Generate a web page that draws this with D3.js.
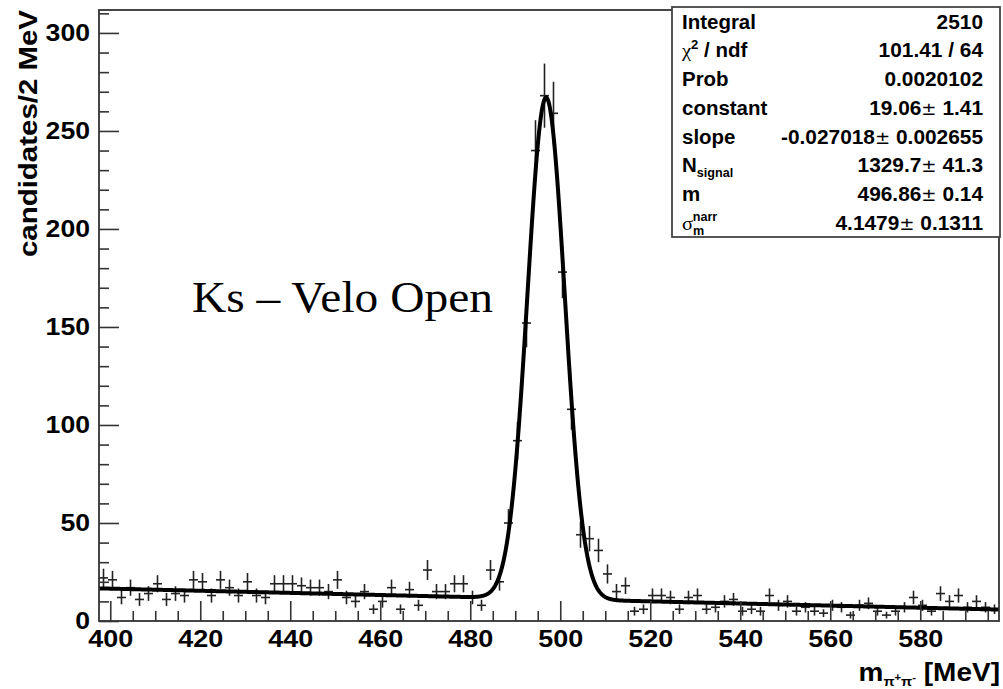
<!DOCTYPE html>
<html>
<head>
<meta charset="utf-8">
<script src="https://cdn.jsdelivr.net/npm/d3@7"></script>
<style>
  body { margin: 0; background: #fff; }
  svg { display: block; }
</style>
</head>
<body>
<svg id="chart" width="1003" height="689"></svg>
<script>
// Histogram of pi+ pi- invariant mass, 2 MeV bins starting at 397.5 MeV
const binLow = 397.5;
const binWidth = 2;
const counts = [
  22, 21, 12, 17, 11, 14, 19, 11, 14, 13,
  21, 20, 13, 21, 17, 13, 20, 13, 12, 19,
  19, 19, 18, 17, 17, 15, 21, 12, 10, 15,
   6, 10, 17,  6, 16,  8, 26, 15, 15, 19,
  19, 12,  8, 26, 20, 50, 92, 152, 240, 268,
  259, 178, 108, 44, 42, 36, 24, 15, 18, 5,
   6, 13, 13, 12,  6, 12, 13,  6,  7, 10,
  11,  5,  6,  5, 13,  8, 10,  5,  7,  5,
   4,  8,  7,  3,  8,  9,  5,  3,  5,  7,
  12,  8,  5, 14, 10, 13,  7, 10,  7,  6
];

const xTickValues = [400, 420, 440, 460, 480, 500, 520, 540, 560, 580];
const yTickValues = [0, 50, 100, 150, 200, 250, 300];
const yMax = 311.7;

// Fit: linear background (per MeV) + gaussian signal
const fitConstant = 19.06;
const fitSlope = -0.027018;
const fitNSignal = 1329.7;
const fitMass = 496.86;
const fitSigma = 4.1479;

// Stats box rows
const statLabels = ["Integral", "chi2", "Prob", "constant", "slope", "Nsignal", "m", "sigma"];
const statValues = ["2510", "101.41 / 64", "0.0020102", "19.06 \u00b1 1.41",
  "-0.027018 \u00b1 0.002655", "1329.7 \u00b1 41.3", "496.86 \u00b1 0.14", "4.1479 \u00b1 0.1311"];

const svg = d3.select("#chart");
const frame = { left: 99, right: 999, top: 10, bottom: 621 };
const FONT = "'Liberation Sans', Arial, Helvetica, sans-serif";

const x = d3.scaleLinear()
  .domain([binLow, binLow + counts.length * binWidth])
  .range([frame.left, frame.right]);
const y = d3.scaleLinear().domain([0, yMax]).range([frame.bottom, frame.top]);

function fitValue(m) {
  const bg = binWidth * (fitConstant + fitSlope * m);
  const sig = binWidth * fitNSignal / (Math.sqrt(2 * Math.PI) * fitSigma) *
    Math.exp(-((m - fitMass) ** 2) / (2 * fitSigma * fitSigma));
  return bg + sig;
}

// ---- data points with error bars ----
const bins = counts.map((c, i) => ({
  lo: binLow + i * binWidth,
  hi: binLow + (i + 1) * binWidth,
  mid: binLow + (i + 0.5) * binWidth,
  v: c,
  e: Math.sqrt(c)
}));

const gPts = svg.append("g").attr("stroke", "#222").attr("stroke-width", 1.6).attr("fill", "none");
gPts.selectAll("line.h").data(bins).join("line").attr("class", "h")
  .attr("x1", d => x(d.lo)).attr("x2", d => x(d.hi))
  .attr("y1", d => y(d.v)).attr("y2", d => y(d.v));
gPts.selectAll("line.v").data(bins).join("line").attr("class", "v")
  .attr("x1", d => x(d.mid)).attr("x2", d => x(d.mid))
  .attr("y1", d => y(d.v - d.e)).attr("y2", d => y(Math.min(yMax, d.v + d.e)));

// ---- fit curve ----
const curvePts = d3.range(0, 2001).map(i => binLow + i * (counts.length * binWidth) / 2000);
svg.append("path")
  .datum(curvePts)
  .attr("fill", "none")
  .attr("stroke", "#000")
  .attr("stroke-width", 4)
  .attr("stroke-linejoin", "round")
  .attr("d", d3.line().x(m => x(m)).y(m => y(fitValue(m))));

// ---- axes ----
function cleanAxis(g) {
  g.select(".domain").remove();
  g.selectAll(".tick line").attr("stroke", "#333").attr("stroke-width", 1.6);
}

const xMinor = d3.range(400, 598, 5).filter(v => v % 20 !== 0);
svg.append("g").attr("transform", `translate(0,${frame.bottom})`)
  .call(d3.axisBottom(x).tickValues(xMinor).tickSize(-10).tickFormat(""))
  .call(cleanAxis);
const gx = svg.append("g").attr("transform", `translate(0,${frame.bottom})`)
  .call(d3.axisBottom(x).tickValues(xTickValues).tickSize(-20).tickPadding(9).tickFormat(d3.format("d")))
  .call(cleanAxis);
gx.selectAll(".tick text")
  .attr("font-family", FONT).attr("font-weight", "bold").attr("font-size", 24).attr("fill", "#000")
  .attr("textLength", d => String(d).length * 15).attr("lengthAdjust", "spacingAndGlyphs");

const yMinor = d3.range(0, yMax, 10).filter(v => v % 50 !== 0);
svg.append("g").attr("transform", `translate(${frame.left},0)`)
  .call(d3.axisLeft(y).tickValues(yMinor).tickSize(-10).tickFormat(""))
  .call(cleanAxis);
const gy = svg.append("g").attr("transform", `translate(${frame.left},0)`)
  .call(d3.axisLeft(y).tickValues(yTickValues).tickSize(-20).tickPadding(9).tickFormat(d3.format("d")))
  .call(cleanAxis);
gy.selectAll(".tick text")
  .attr("font-family", FONT).attr("font-weight", "bold").attr("font-size", 24).attr("fill", "#000")
  .attr("textLength", d => String(d).length * 14.8).attr("lengthAdjust", "spacingAndGlyphs");

// frame drawn over the ticks
svg.append("rect")
  .attr("x", frame.left).attr("y", frame.top)
  .attr("width", frame.right - frame.left).attr("height", frame.bottom - frame.top)
  .attr("fill", "none").attr("stroke", "#333").attr("stroke-width", 1.8);

// ---- axis titles ----
svg.append("text")
  .attr("transform", "translate(37,10) rotate(-90)")
  .attr("text-anchor", "end")
  .attr("font-family", FONT).attr("font-weight", "bold").attr("font-size", 26)
  .attr("textLength", 247).attr("lengthAdjust", "spacingAndGlyphs")
  .text("candidates/2 MeV");

const xt = svg.append("text")
  .attr("transform", "translate(1000,681) scale(1.12,1)")
  .attr("text-anchor", "end")
  .attr("font-family", FONT).attr("font-weight", "bold").attr("font-size", 25);
xt.append("tspan").text("m");
xt.append("tspan").attr("font-size", 13).attr("dy", 5).text("\u03c0");
xt.append("tspan").attr("font-size", 10).attr("dy", -5).text("+");
xt.append("tspan").attr("font-size", 13).attr("dy", 5).text("\u03c0");
xt.append("tspan").attr("font-size", 10).attr("dy", -5).text("-");
xt.append("tspan").attr("dy", 5).text("\u00a0");
xt.append("tspan").attr("dy", -5).text("[MeV]");

// ---- annotation ----
svg.append("text")
  .attr("x", 192).attr("y", 312)
  .attr("font-family", "'Liberation Serif', 'Times New Roman', serif")
  .attr("font-size", 44)
  .attr("textLength", 301).attr("lengthAdjust", "spacingAndGlyphs")
  .text("Ks \u2013 Velo Open");

// ---- stats box ----
const box = { x: 672, y: 7, w: 328, h: 230 };
svg.append("rect")
  .attr("x", box.x).attr("y", box.y).attr("width", box.w).attr("height", box.h)
  .attr("fill", "#fff").attr("stroke", "#444").attr("stroke-width", 1.8);

const rowStep = 28.75;
const gs = svg.append("g").attr("font-family", FONT).attr("font-weight", "bold").attr("font-size", 19.5);

statLabels.forEach((lab, i) => {
  const by = box.y + 21.5 + i * rowStep;
  const t = gs.append("text").attr("transform", `translate(682,${by}) scale(1.05,1)`);
  if (lab === "chi2") {
    t.append("tspan").attr("font-family", "'Liberation Serif', serif").attr("font-weight", "normal").text("\u03c7");
    t.append("tspan").attr("font-size", 12.5).attr("dy", -8).text("2");
    t.append("tspan").attr("dy", 8).text(" / ndf");
  } else if (lab === "Nsignal") {
    t.append("tspan").text("N");
    t.append("tspan").attr("font-size", 12).attr("dy", 5).text("signal");
  } else if (lab === "sigma") {
    t.append("tspan").attr("font-family", "'Liberation Serif', serif").attr("font-weight", "normal").text("\u03c3");
    t.append("tspan").attr("font-size", 12).attr("dy", 5).text("m");
    t.append("tspan").attr("font-size", 12).attr("dx", -11).attr("dy", -14).text("narr");
  } else {
    t.text(lab);
  }
});

statValues.forEach((val, i) => {
  const by = box.y + 21.5 + i * rowStep;
  const t = gs.append("text").attr("transform", `translate(983,${by}) scale(1.07,1)`).attr("text-anchor", "end");
  const parts = val.split("\u00b1");
  if (parts.length === 2) {
    t.append("tspan").text(parts[0].trim());
    t.append("tspan").attr("font-weight", "normal").attr("font-family", "'DejaVu Sans', sans-serif").attr("font-size", 17).text("\u00b1");
    t.append("tspan").text(" " + parts[1].trim());
  } else {
    t.text(val);
  }
});
</script>
</body>
</html>
